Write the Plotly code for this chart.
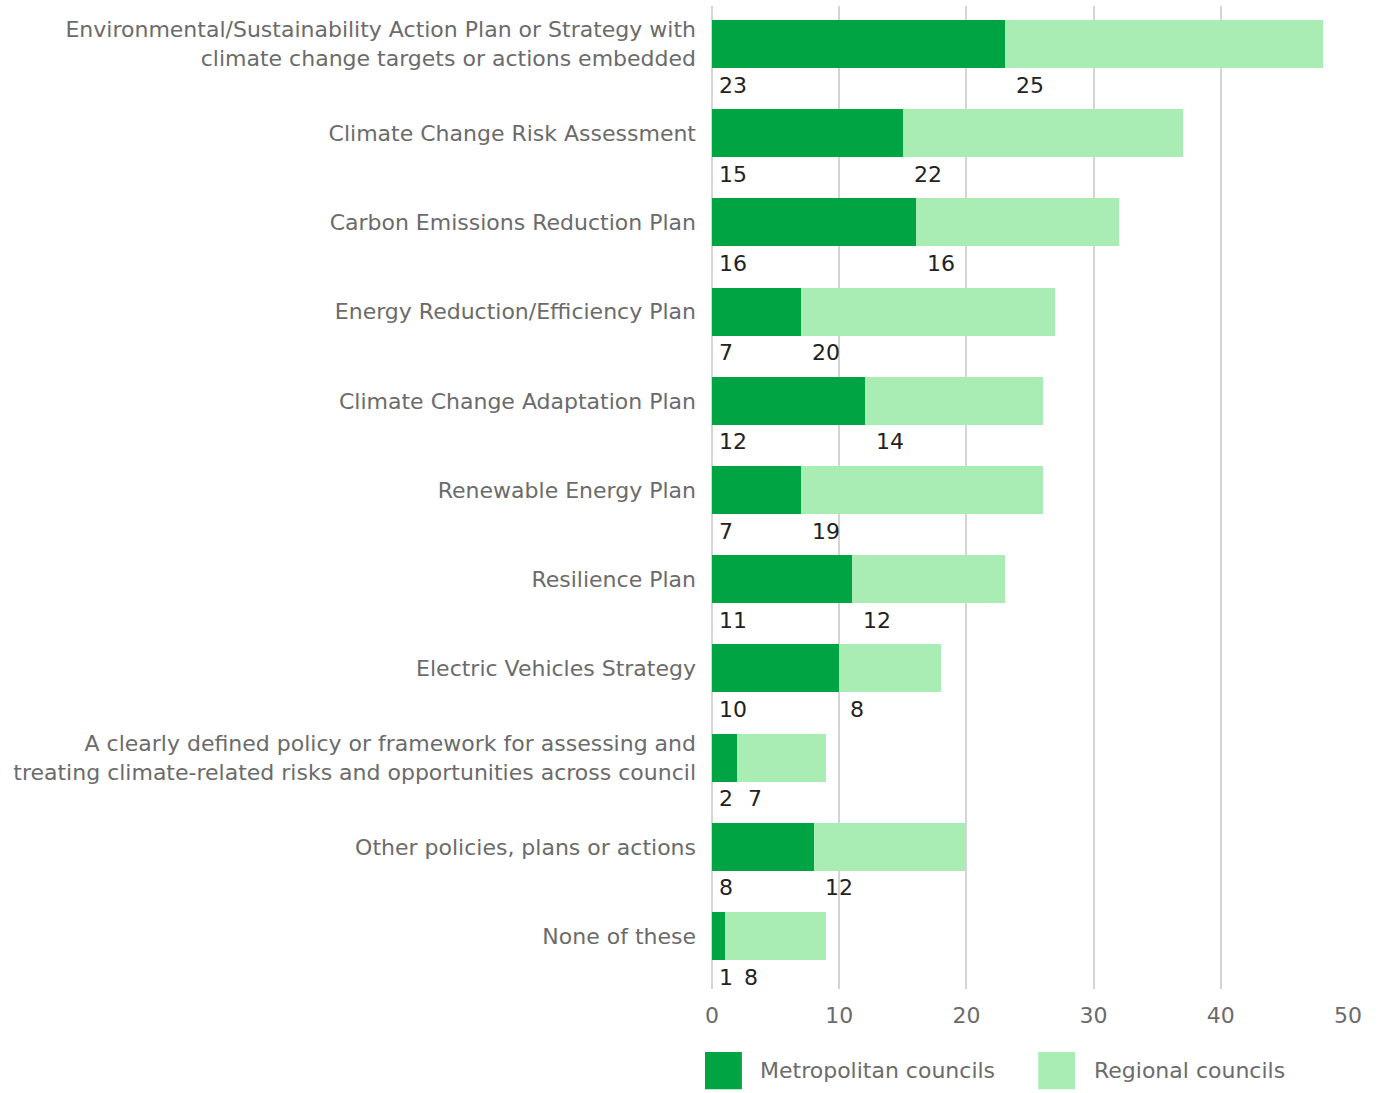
import plotly.graph_objects as go

# Council responses: which climate-related policies/plans are in place
categories = [
    "Environmental/Sustainability Action Plan or Strategy with<br>climate change targets or actions embedded",
    "Climate Change Risk Assessment",
    "Carbon Emissions Reduction Plan",
    "Energy Reduction/Efficiency Plan",
    "Climate Change Adaptation Plan",
    "Renewable Energy Plan",
    "Resilience Plan",
    "Electric Vehicles Strategy",
    "A clearly defined policy or framework for assessing and<br>treating climate-related risks and opportunities across council",
    "Other policies, plans or actions",
    "None of these",
]
metropolitan = [23, 15, 16, 7, 12, 7, 11, 10, 2, 8, 1]
regional = [25, 22, 16, 20, 14, 19, 12, 8, 7, 12, 8]

series_names = ["Metropolitan councils", "Regional councils"]
x_ticks = [0, 10, 20, 30, 40, 50]

DARK = "#00A443"
LIGHT = "#A9EDB5"
LABEL_GREY = "#6b6b6b"
FONT = "DejaVu Sans"
SIZE = 22
PX_PER_UNIT = (1381 - 712 - 33) / 50

fig = go.Figure()
fig.add_trace(go.Bar(y=categories, x=metropolitan, orientation="h", name=series_names[0],
                     marker=dict(color=DARK, line=dict(width=0)), width=0.54, showlegend=False))
fig.add_trace(go.Bar(y=categories, x=regional, orientation="h", name=series_names[1],
                     marker=dict(color=LIGHT, line=dict(width=0)), width=0.54, showlegend=False))

# value labels sit under the start of each segment; the second label is
# nudged right when the first segment is too short to keep them apart
annotations = []
for cat, m, r in zip(categories, metropolitan, regional):
    annotations.append(dict(x=0, y=cat, xref="x", yref="y", text=str(m), showarrow=False,
                            xanchor="left", yanchor="middle", xshift=5, yshift=-41,
                            font=dict(family=FONT, size=SIZE, color="#222222")))
    shift = max(9, 30 - m * PX_PER_UNIT)
    annotations.append(dict(x=m, y=cat, xref="x", yref="y", text=str(r), showarrow=False,
                            xanchor="left", yanchor="middle", xshift=shift, yshift=-41,
                            font=dict(family=FONT, size=SIZE, color="#222222")))

# legend drawn as large swatches below the axis
legend_items = [(series_names[0], DARK, -0.011), (series_names[1], LIGHT, 0.513)]
shapes = []
for name, color, x0 in legend_items:
    shapes.append(dict(type="rect", xref="paper", yref="paper", x0=x0, x1=x0 + 0.058,
                       y0=-0.102, y1=-0.064, fillcolor=color, line=dict(width=0)))
    annotations.append(dict(x=x0 + 0.084, y=-0.083, xref="paper", yref="paper", text=name,
                            showarrow=False, xanchor="left", yanchor="middle",
                            font=dict(family=FONT, size=SIZE, color=LABEL_GREY)))

fig.update_layout(
    barmode="stack",
    width=1381, height=1093,
    margin=dict(l=712, r=33, t=6, b=104),
    paper_bgcolor="white", plot_bgcolor="white",
    font=dict(family=FONT, size=SIZE, color=LABEL_GREY),
    annotations=annotations,
    shapes=shapes,
    xaxis=dict(range=[0, 50], tickvals=x_ticks, showgrid=True, gridcolor="#d4d4d4", gridwidth=2,
               zeroline=True, zerolinecolor="#d4d4d4", zerolinewidth=2, showline=False,
               ticks="", ticklabelstandoff=11, tickfont=dict(family=FONT, size=SIZE, color=LABEL_GREY)),
    yaxis=dict(categoryorder="array", categoryarray=categories, range=[10.594, -0.426],
               showgrid=False, zeroline=False, showline=False, ticks="", ticklabelstandoff=15,
               automargin=False, tickfont=dict(family=FONT, size=SIZE, color=LABEL_GREY)),
)

fig.write_html("out.html")
